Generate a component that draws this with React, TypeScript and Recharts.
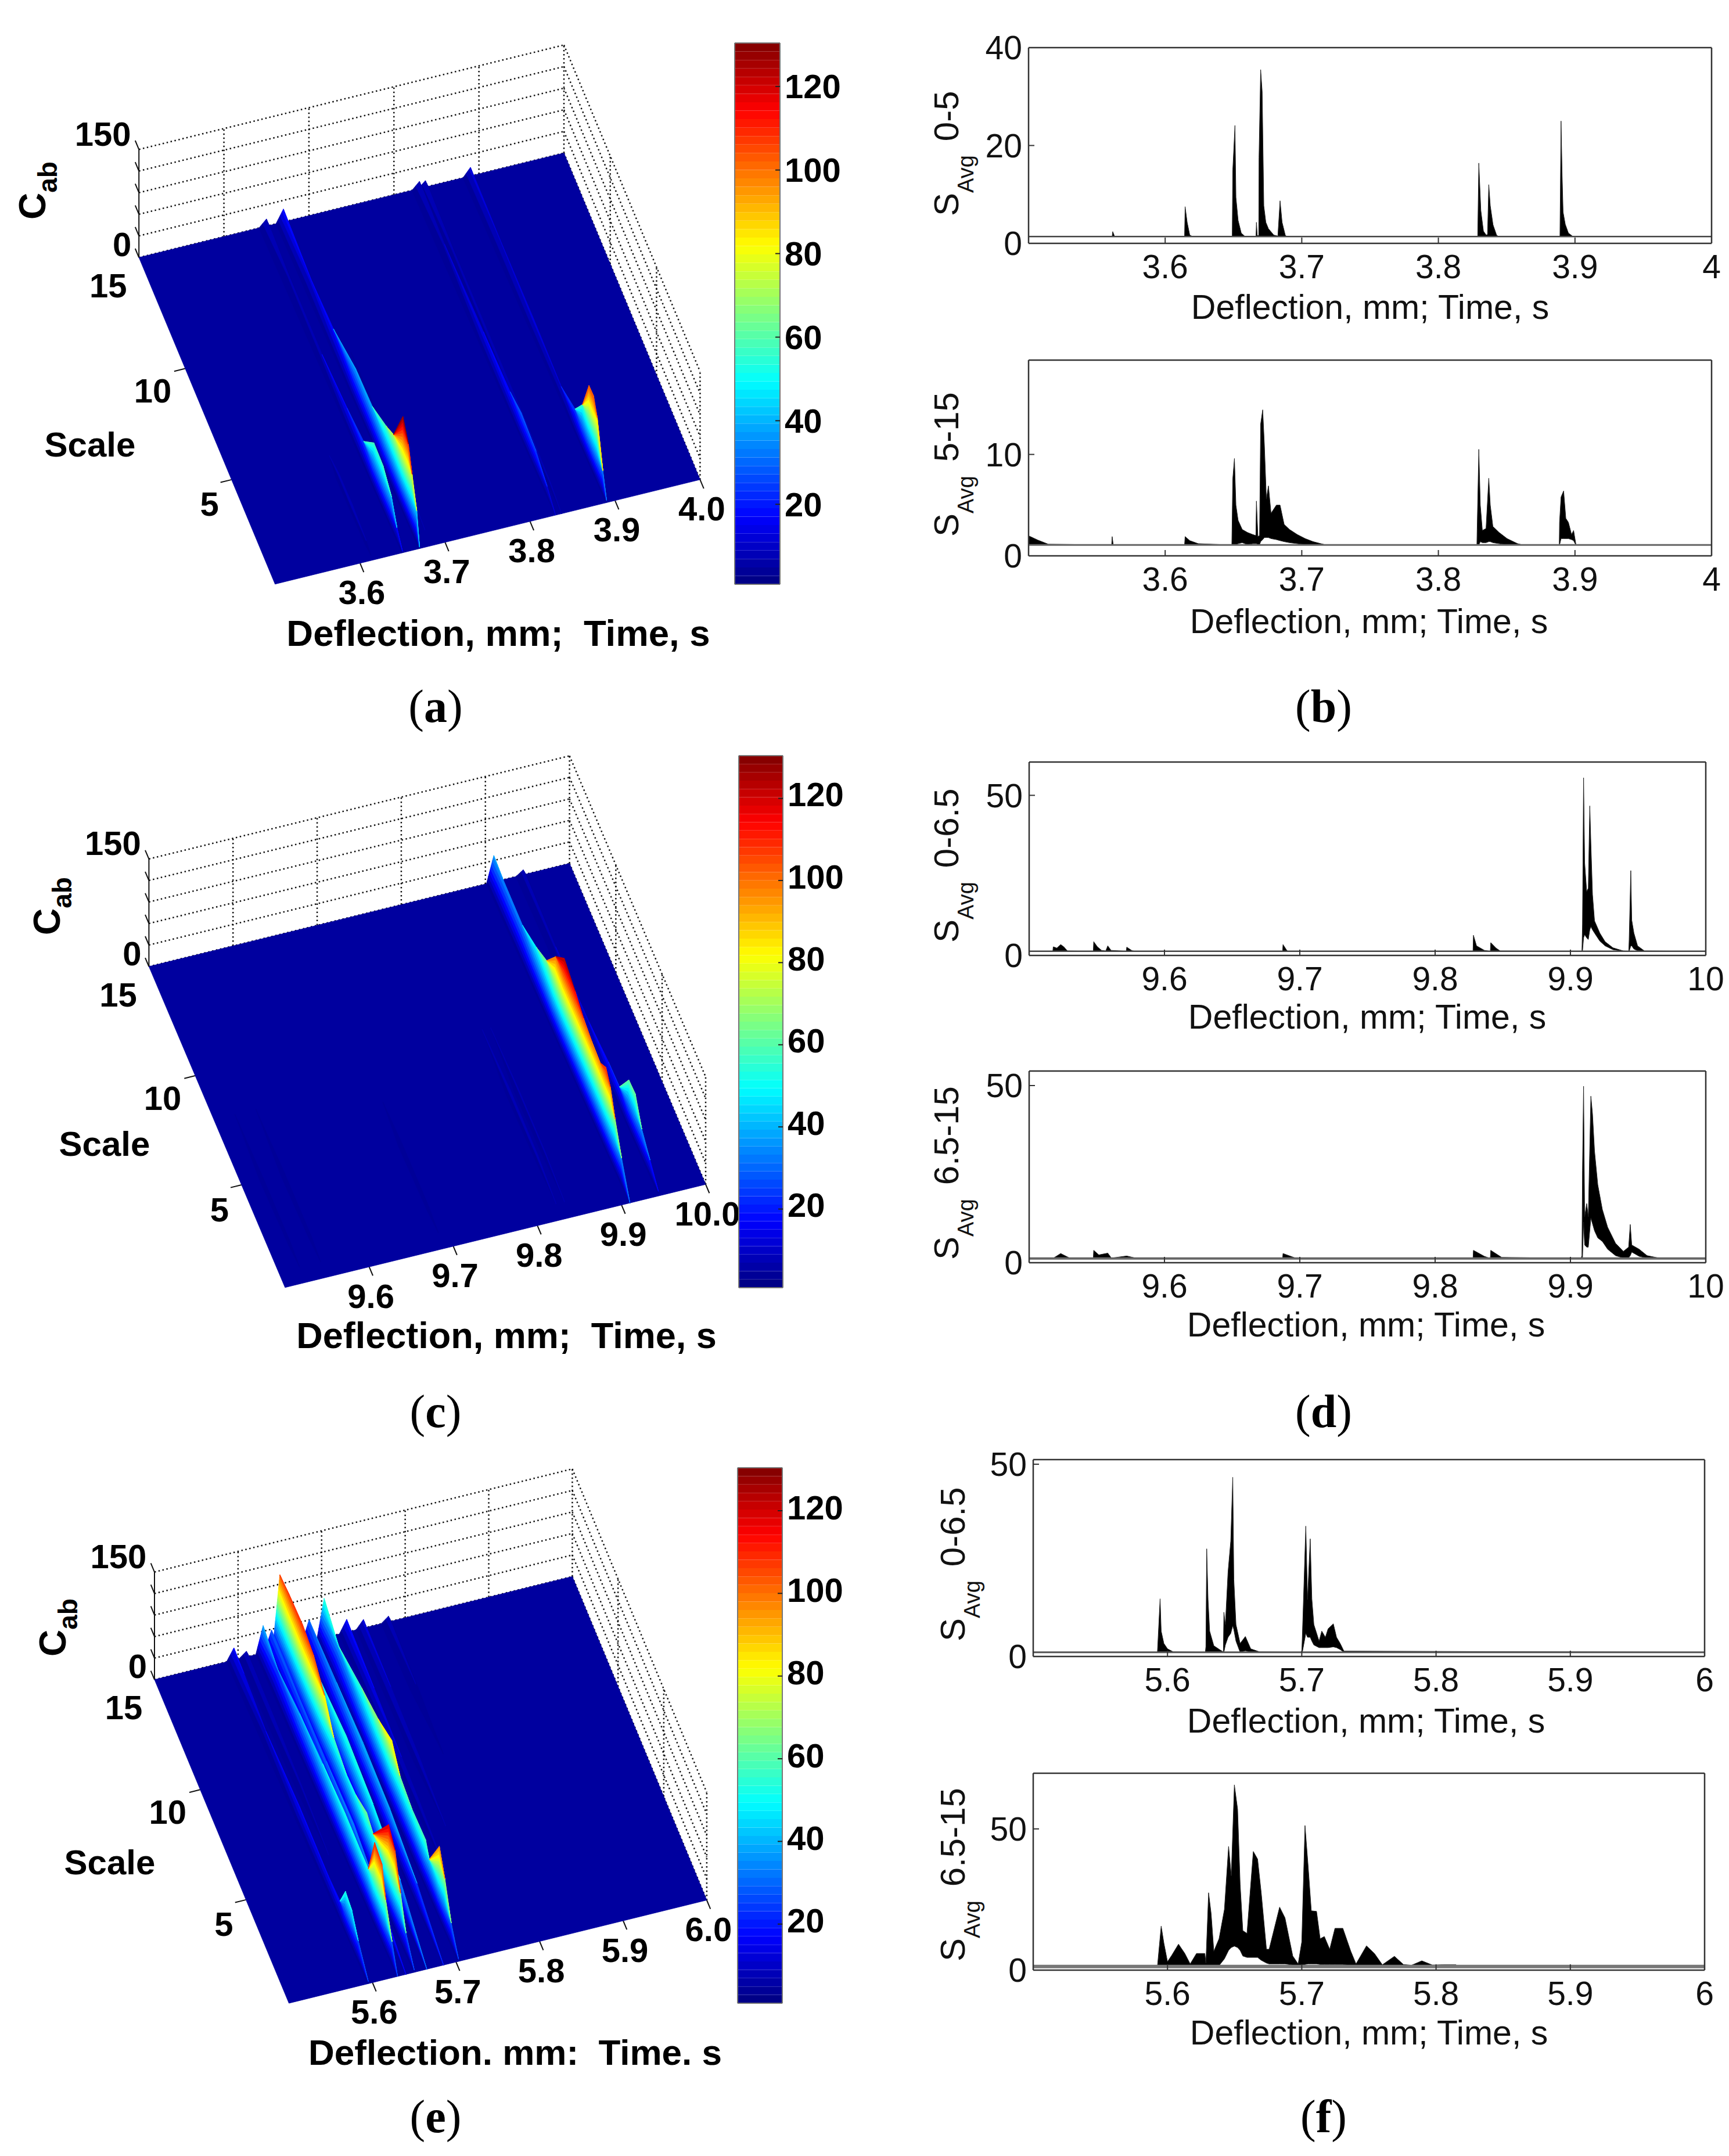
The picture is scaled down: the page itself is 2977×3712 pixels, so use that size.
import {
  Area,
  Bar,
  BarChart,
  ComposedChart,
  Label,
  Line,
  Scatter,
  XAxis,
  YAxis,
} from "recharts";

const FONT = "'Liberation Sans', Arial, sans-serif";
const SERIF = "'Liberation Serif', 'Times New Roman', serif";

type Ridge = { time: number; scales: number[]; heights: number[] };

const ridgesA: Ridge[] = [
  { time: 3.89, scales: [15, 11.8, 8.2, 5.2, 3.7, 2.9, 2.2, 1.7, 1.3, 0.7, 0.3], heights: [12, 10, 12, 10, 25, 56, 104, 105, 87, 32, 3] },
  { time: 3.837, scales: [15, 12, 8, 4, 1.5, 0.3], heights: [9, 6, 7, 9, 6, 0] },
  { time: 3.83, scales: [15, 12.3, 8.1, 5.2, 4, 2.4, 1.2, 0.3], heights: [10, 6, 14, 20, 28, 24, 12, 0] },
  { time: 3.684, scales: [9, 6, 3, 1], heights: [0, 5, 6, 0] },
  { time: 3.67, scales: [15, 12, 9.6, 7.2, 5.4, 3.9, 3.1, 2.1, 1.5, 1.1, 0.6, 0.3], heights: [18, 12, 18, 37, 40, 59, 72, 128, 108, 78, 43, 2] },
  { time: 3.65, scales: [15, 12.6, 9, 6.3, 4.5, 3.4, 2.4, 1.5, 0.9, 0.3], heights: [10, 6, 7, 16, 25, 57, 56, 41, 16, 2] },
  { time: 3.615, scales: [5, 4, 2.5, 1, 0.5], heights: [0, 7, 9, 5, 0] },
];

const ridgesC: Ridge[] = [
  { time: 9.945, scales: [15, 11.5, 7.9, 5.8, 4.6, 3.6, 2.9, 2.2, 1.3, 0.4], heights: [7, 6, 11, 19, 21, 61, 63, 35, 19, 3] },
  { time: 9.91, scales: [15, 14, 11.9, 10.4, 9.3, 8.3, 7.4, 6.2, 5.3, 4.4, 3.5, 2.9, 2.4, 1.9, 1.2, 0.3], heights: [37, 34, 34, 49, 64, 100, 125, 115, 105, 100, 98, 110, 97, 68, 35, 0] },
  { time: 9.84, scales: [9, 6, 3, 1], heights: [0, 6, 6, 0] },
  { time: 9.83, scales: [9, 6, 3, 1], heights: [0, 8, 8, 0] },
  { time: 9.69, scales: [7, 5, 2, 1], heights: [0, 5, 5, 0] },
  { time: 9.55, scales: [8, 5, 2, 1], heights: [0, 5, 5, 0] },
  { time: 9.525, scales: [8, 5, 2, 1], heights: [0, 4, 4, 0] },
];

const ridgesE: Ridge[] = [
  { time: 5.78, scales: [15, 12, 9], heights: [8, 5, 0] },
  { time: 5.75, scales: [15, 12, 9, 6], heights: [12, 10, 8, 0] },
  { time: 5.73, scales: [15, 12, 9, 7, 4], heights: [18, 14, 10, 8, 0] },
  { time: 5.703, scales: [15, 13.4, 10.9, 9.1, 7.6, 6.7, 5.4, 3.9, 3.5, 2.4, 1.8, 1.1, 0.3], heights: [55, 37, 56, 68, 84, 62, 56, 59, 44, 96, 69, 29, 3] },
  { time: 5.685, scales: [15, 12, 9.1, 6.2, 3.2, 0.3], heights: [30, 35, 40, 38, 25, 0] },
  { time: 5.665, scales: [15, 12, 9.1, 6.2, 3.2, 0.3], heights: [34, 45, 55, 50, 35, 0] },
  { time: 5.65, scales: [15, 14, 12.5, 11.3, 10.1, 9.1, 7.7, 6.7, 5.5, 4.8, 3.1, 2.4, 1.8, 1.2, 0.3], heights: [103, 107, 110, 104, 85, 57, 48, 51, 63, 55, 120, 105, 64, 27, 3] },
  { time: 5.64, scales: [15, 12, 9, 6, 3, 0.3], heights: [29, 28, 30, 35, 20, 0] },
  { time: 5.63, scales: [15, 13.4, 11, 8.5, 6.1, 4.3, 3.5, 2.8, 2, 1.6, 0.9, 0.3], heights: [38, 26, 38, 45, 51, 51, 52, 110, 104, 67, 30, 0] },
  { time: 5.61, scales: [15, 12, 9, 6], heights: [8, 8, 6, 0] },
  { time: 5.595, scales: [15, 13.9, 11.5, 7.8, 4.7, 3.4, 2.8, 2.1, 1.4, 0.3], heights: [17, 15, 8, 16, 16, 20, 52, 47, 26, 3] },
];

const zLevels = [0, 30, 60, 90, 120, 150];
const scaleTicks = [10, 5];
const colorTicks = [20, 40, 60, 80, 100, 120];
const COLOR_MIN = 0.85;
const COLOR_MAX = 130.4;
const SCALE_MIN = 0.3;

// --- line panels: [time, upper envelope, lower envelope if not the baseline] ---
type Row = number[];

const bTop: Row[] = [
  [3.5, 1.4], [3.5612, 1.4], [3.5616, 2.4], [3.563, 1.4], [3.6142, 1.4], [3.6146, 7.5], [3.6161, 4.3], [3.618, 1.7], [3.62, 1.4],
  [3.6491, 1.4], [3.6495, 15], [3.6511, 24.1], [3.6518, 9.4], [3.6534, 4.7], [3.6557, 2.1], [3.6583, 1.45], [3.6665, 1.4], [3.6668, 4.3], [3.6674, 1.6],
  [3.6685, 1.6], [3.6687, 17.5], [3.6699, 35.5], [3.671, 31], [3.6722, 7.7], [3.6737, 4.3], [3.6756, 3], [3.6795, 1.7], [3.6825, 1.5], [3.6841, 8.7], [3.6856, 4.3], [3.6879, 1.7], [3.689, 1.4],
  [3.8288, 1.4], [3.8296, 16.4], [3.8311, 6.7], [3.833, 2.5], [3.835, 1.7], [3.836, 1.8], [3.8369, 12], [3.838, 7.7], [3.84, 3.8], [3.8426, 1.7], [3.844, 1.4],
  [3.889, 1.4], [3.8898, 25], [3.8906, 13.8], [3.8913, 6.4], [3.8929, 3.9], [3.8952, 2.1], [3.8983, 1.45], [4, 1.4],
];

const bBottom: Row[] = [
  [3.5, 1.98], [3.5067, 1.56], [3.5144, 1.15], [3.5608, 1.07], [3.5612, 1.9], [3.562, 1.07], [3.6142, 1.07], [3.6146, 1.9], [3.618, 1.5], [3.6242, 1.2],
  [3.6488, 1.07], [3.6495, 7.6], [3.6507, 9.6], [3.6518, 5], [3.6534, 3.5, 1.2], [3.6564, 2.6, 1.3], [3.6603, 2.3, 1.1], [3.6641, 2.1, 1.2], [3.6664, 2, 1.2], [3.6668, 5.4, 1.2], [3.6679, 1.9, 1.1], [3.6691, 2, 1.1],
  [3.6699, 13, 1.4], [3.6714, 14.4, 1.6], [3.6726, 11, 1.8], [3.6741, 5.6, 1.8], [3.6756, 6.9, 1.8], [3.6775, 4.2, 1.7], [3.6814, 5, 1.6], [3.6841, 5, 1.5], [3.6871, 3.1, 1.4], [3.691, 2.6, 1.3], [3.6967, 2.1, 1.2], [3.7025, 1.7, 1.1], [3.7083, 1.4], [3.714, 1.2], [3.718, 1.07],
  [3.8282, 1.07], [3.8284, 2.6], [3.8296, 10.5], [3.8307, 5, 1.4], [3.8322, 2.5, 1.3], [3.8349, 2.7, 1.3], [3.8369, 7.65, 1.4], [3.838, 5, 1.4], [3.8399, 2.9, 1.3], [3.8445, 2.3, 1.2], [3.8503, 1.7], [3.858, 1.2], [3.862, 1.07],
  [3.8885, 1.07], [3.8887, 3.3], [3.8898, 5.8, 1.7], [3.8917, 6.4, 1.7], [3.8933, 3.7, 1.7], [3.8952, 3.3, 1.7], [3.8975, 2.1, 1.6], [3.899, 2.5, 1.5], [3.9006, 1.2], [3.901, 1.07], [4, 1.07],
];

const dTop: Row[] = [
  [9.5, 1.3], [9.5175, 1.3], [9.5178, 2.7], [9.5205, 2.3], [9.5233, 3.4], [9.5256, 2.7], [9.5283, 1.4], [9.5474, 1.3], [9.5477, 4.3], [9.5504, 2.7], [9.5535, 1.6], [9.5566, 1.4], [9.5581, 3], [9.5605, 1.6],
  [9.5718, 1.3], [9.5721, 2.6], [9.576, 1.5], [9.578, 1.3], [9.6873, 1.3], [9.6876, 3.4], [9.6899, 1.9], [9.691, 1.3],
  [9.828, 1.3], [9.8283, 6.3], [9.8306, 3], [9.8364, 1.6], [9.8408, 1.3], [9.8411, 4], [9.845, 2.3], [9.8481, 1.4],
  [9.9085, 1.3], [9.9089, 9.8], [9.9097, 55.5, 5.5], [9.9105, 29, 6.5], [9.912, 20, 5.5], [9.9132, 21, 5], [9.9143, 46.7, 8], [9.9151, 35, 9], [9.9163, 19, 8], [9.9178, 10.8, 7], [9.9217, 7, 4.5], [9.9256, 4.3, 3], [9.9314, 2.4, 1.8], [9.9391, 1.4],
  [9.9431, 1.3], [9.9434, 5], [9.9446, 26.5, 3], [9.9453, 11, 3], [9.9469, 7, 2], [9.9496, 3, 1.5], [9.9547, 1.4], [10, 1.3],
];

const dBottom: Row[] = [
  [9.5, 1.2], [9.5175, 1.2], [9.5233, 2.6], [9.53, 1.3], [9.5474, 1.2], [9.5477, 3.5], [9.5515, 2.2], [9.5581, 2.7], [9.5608, 1.3], [9.5721, 1.9], [9.5787, 1.3],
  [9.6873, 1.2], [9.6876, 2.6], [9.6969, 1.3], [9.828, 1.2], [9.8283, 3.5], [9.8364, 1.8], [9.8408, 1.2], [9.8411, 3.5], [9.8492, 1.5],
  [9.9078, 1.2], [9.9085, 2], [9.9089, 26], [9.9097, 49.8, 11.5], [9.9105, 13, 5], [9.912, 16.7, 4.4], [9.9132, 13, 4.4], [9.9151, 47, 12.6], [9.9163, 42, 11], [9.9178, 31.5, 9], [9.9202, 22, 7], [9.9236, 15, 6], [9.9275, 10, 3.8], [9.9333, 5.5, 2], [9.9391, 3.2, 1.3],
  [9.943, 4.4, 1.4], [9.9442, 10.8, 2], [9.9453, 5, 3], [9.9508, 3.8, 1.8], [9.9566, 2, 1.3], [9.9643, 1.4], [10, 1.2],
];

const fTop: Row[] = [
  [5.5, 1.1], [5.5925, 1.1], [5.5945, 15], [5.5953, 6.6], [5.5973, 3.4], [5.6, 2], [5.6043, 1.2], [5.6282, 1.1], [5.6286, 2.6], [5.6292, 28], [5.6302, 14.8], [5.6314, 6.6], [5.6345, 2.8], [5.6392, 1.7],
  [5.6416, 1.2], [5.642, 11.5], [5.6431, 8.3, 3], [5.6451, 22, 5], [5.6471, 30, 6], [5.6486, 46.6, 8], [5.6494, 20, 7], [5.651, 8.3, 4], [5.6541, 3.4], [5.658, 5.2, 1.5], [5.662, 2], [5.6686, 1.2],
  [5.7, 1.1], [5.7004, 5], [5.703, 33.9, 6], [5.7043, 14.8, 5], [5.7063, 30.6, 5], [5.7075, 15, 4], [5.709, 8.3, 3], [5.7129, 4, 2.3], [5.7149, 6.6, 2.3], [5.7176, 5, 2.3], [5.7196, 7.2, 2.3], [5.7235, 8.5, 2.5], [5.7259, 5, 2.3], [5.7286, 3.4, 1.8], [5.7314, 1.4], [6, 1.1],
];

const fBottom: Row[] = [
  [5.5, 1.3], [5.5925, 1.3], [5.5953, 15.6, 1.4], [5.5973, 9.6, 1.4], [5.6, 3, 1.4], [5.6031, 5.2, 1.4], [5.6082, 9.2, 1.5], [5.6129, 5.9, 1.4], [5.6169, 2.2, 1.4], [5.6216, 5.9, 1.4], [5.6278, 5.9, 1.4], [5.6286, 2.5],
  [5.6306, 27.4, 1.5], [5.6325, 20, 1.6], [5.6345, 6.7, 1.5], [5.6384, 11.1, 1.6], [5.6424, 21.5, 4], [5.6455, 43.8, 7], [5.6475, 33.4, 8], [5.6498, 65.6, 8.5], [5.6522, 57, 8], [5.6541, 30.4, 7], [5.6561, 14, 5], [5.6592, 13, 4.5],
  [5.6639, 42, 4.5], [5.6671, 39.3, 4.5], [5.6698, 27.4, 3.5], [5.6737, 7.4, 2.5], [5.6757, 7.4, 2.2], [5.6835, 22.3, 2.2], [5.6875, 18.5, 2.2], [5.6933, 5, 1.8], [5.6973, 2.2, 1.5],
  [5.7, 10, 1.8], [5.7024, 51.2, 2], [5.7047, 37, 2.2], [5.7071, 21, 2.2], [5.711, 20.8, 2.2], [5.7137, 11.1, 2], [5.7168, 11.9, 2], [5.7208, 7.4, 2], [5.7247, 14.8, 2], [5.7306, 14.8, 2], [5.7365, 6.7, 1.6], [5.7404, 2.2, 1.5],
  [5.7482, 8.6, 1.6], [5.7541, 5.9, 1.5], [5.76, 1.9, 1.4], [5.769, 4.9, 1.5], [5.7757, 2, 1.4], [5.7816, 1.7], [5.7894, 3.3, 1.4], [5.7973, 1.8], [5.8051, 1.9], [5.8149, 1.9], [5.816, 1.3], [6, 1.3],
];

const abTicks = [3.6, 3.7, 3.8, 3.9, 4];
const cdTicks = [9.6, 9.7, 9.8, 9.9, 10];
const efTicks = [5.6, 5.7, 5.8, 5.9, 6];

// --- colour map ---
const clamp = (v: number) => Math.max(0, Math.min(1, v));
const jet = (v: number) => {
  const f = (v - COLOR_MIN) / (COLOR_MAX - COLOR_MIN);
  const r = clamp(Math.min(4 * f - 1.5, -4 * f + 4.5));
  const g = clamp(Math.min(4 * f - 0.5, -4 * f + 3.5));
  const b = clamp(Math.min(4 * f + 0.5, -4 * f + 2.5));
  return `rgb(${Math.round(r * 255)},${Math.round(g * 255)},${Math.round(b * 255)})`;
};

const FLOOR = "#00009f";
const LEVEL_STEP = 5;
const surfaceLevels = Array.from({ length: 28 }, (_, i) => i * LEVEL_STEP);

// --- surface panel ---
interface Geometry {
  chartTop: number;
  chartHeight: number;
  tMin: number;
  ox: number;
  oy: number;
  bx: number;
  by: number;
  fx: number;
  fy: number;
  zPerUnit: number;
}

const project = (g: Geometry, t: number, s: number, z: number) => {
  const a = (t - g.tMin) / 0.5;
  const b = (15 - s) / (15 - SCALE_MIN);
  return {
    px: g.ox + a * (g.bx - g.ox) + b * (g.fx - g.ox),
    py: g.oy + a * (g.by - g.oy) + b * (g.fy - g.oy) - z * g.zPerUnit,
  };
};

const PolyShape = (props: any) => {
  const { cx, cy, payload } = props;
  const pts = payload.verts
    .map((v: { px: number; py: number }) => `${cx + v.px - payload.px},${cy + v.py - payload.py}`)
    .join(" ");
  return <polygon points={pts} fill={payload.color} stroke={payload.color} strokeWidth={0.8} />;
};

const TextShape = (props: any) => {
  const { cx, cy, payload } = props;
  return (
    <text
      x={cx}
      y={cy}
      textAnchor="middle"
      dominantBaseline="central"
      fontFamily={FONT}
      fontWeight="bold"
      fontSize={payload.size}
      fill="#000"
      style={{ whiteSpace: "pre" }}
    >
      {payload.text}
    </text>
  );
};

const CabShape = (props: any) => {
  const { cx, cy } = props;
  return (
    <text transform={`rotate(-90 ${cx} ${cy})`} x={cx} y={cy} fontFamily={FONT} fontWeight="bold" fontSize={64} fill="#000">
      C
      <tspan dy={20} fontSize={46}>
        ab
      </tspan>
    </text>
  );
};

// each ridge is a curtain with a steep flank either side of its crest line
const FLANK_LEFT = -0.008;
const FLANK_RIGHT = 0.003;

const buildCells = (g: Geometry, ridges: Ridge[]) => {
  const cells: any[] = [];
  const at = (t: number, s: number, level: number, h: number, flank: number) => {
    const z = Math.min(level, h);
    const frac = h > 0 ? 1 - z / h : 0;
    return project(g, t + flank * (s / 15 + 0.1) * frac, s, z);
  };
  ridges.forEach((ridge) => {
    [FLANK_RIGHT, FLANK_LEFT].forEach((flank) => {
      for (let i = 0; i < ridge.scales.length - 1; i++) {
        const s0 = ridge.scales[i];
        const s1 = ridge.scales[i + 1];
        const h0 = ridge.heights[i];
        const h1 = ridge.heights[i + 1];
        for (let k = 0; k < surfaceLevels.length - 1; k++) {
          const lo = surfaceLevels[k];
          const hi = surfaceLevels[k + 1];
          if (lo >= h0 && lo >= h1) break;
          const verts = [
            at(ridge.time, s0, lo, h0, flank),
            at(ridge.time, s1, lo, h1, flank),
            at(ridge.time, s1, hi, h1, flank),
            at(ridge.time, s0, hi, h0, flank),
          ];
          cells.push({ ...verts[0], verts, color: jet(Math.max((lo + hi) / 2, 4)) });
        }
      }
    });
  });
  return cells;
};

interface SurfaceProps {
  geometry: Geometry;
  ridges: Ridge[];
  timeLabels: string[];
  xTitle: string;
  xTitlePos: number[];
  xTitleSize: number;
  scalePos: number[];
  cabPos: number[];
}

const WIDTH_3D = 1340;

const SurfacePanel = ({ geometry: g, ridges, timeLabels, xTitle, xTitlePos, xTitleSize, scalePos, cabPos }: SurfaceProps) => {
  const tMax = g.tMin + 0.5;
  const tTicks = timeLabels.map(Number);
  const dotted: { px: number; py: number }[][] = [];
  const solid: { px: number; py: number }[][] = [];
  zLevels.forEach((z) => {
    dotted.push([project(g, g.tMin, 15, z), project(g, tMax, 15, z)]);
    dotted.push([project(g, tMax, 15, z), project(g, tMax, SCALE_MIN, z)]);
    solid.push([project(g, g.tMin, 15, z), project(g, g.tMin, 15.4, z)]);
  });
  tTicks.forEach((t) => {
    dotted.push([project(g, t, 15, 0), project(g, t, 15, 150)]);
    solid.push([project(g, t, SCALE_MIN, 0), project(g, t, SCALE_MIN - 0.4, 0)]);
  });
  [...scaleTicks, SCALE_MIN].forEach((s) => {
    dotted.push([project(g, tMax, s, 0), project(g, tMax, s, 150)]);
  });
  scaleTicks.forEach((s) => {
    solid.push([project(g, g.tMin, s, 0), project(g, g.tMin - 0.013, s, 0)]);
  });
  solid.push([project(g, g.tMin, 15, 0), project(g, g.tMin, 15, 150)]);

  const floor = [
    project(g, g.tMin, 15, 0),
    project(g, tMax, 15, 0),
    project(g, tMax, SCALE_MIN, 0),
    project(g, g.tMin, SCALE_MIN, 0),
  ];
  const origin = project(g, g.tMin, 15, 0);
  const top = project(g, g.tMin, 15, 150);
  const labelAt = (p: { px: number; py: number }, dx: number, dy: number, text: string, size = 58) => ({
    px: p.px + dx,
    py: p.py + dy,
    text,
    size,
  });
  const labels = [
    labelAt(top, -62, -27, "150"),
    labelAt(origin, -29, -23, "0"),
    labelAt(origin, -53, 48, "15"),
    labelAt(project(g, g.tMin, 10, 0), -56, 38, "10"),
    labelAt(project(g, g.tMin, 5, 0), -38, 42, "5"),
    ...timeLabels.map((label, i) => labelAt(project(g, tTicks[i], SCALE_MIN, 0), 3, 50, label)),
    { px: scalePos[0], py: scalePos[1], text: "Scale", size: 60 },
    { px: xTitlePos[0], py: xTitlePos[1], text: xTitle, size: xTitleSize },
  ];

  return (
    <div style={{ position: "absolute", left: 0, top: g.chartTop }}>
      <ComposedChart width={WIDTH_3D} height={g.chartHeight} margin={{ top: 0, right: 0, bottom: 0, left: 0 }}>
        <XAxis type="number" dataKey="px" domain={[0, WIDTH_3D]} hide allowDataOverflow />
        <YAxis type="number" dataKey="py" domain={[g.chartTop, g.chartTop + g.chartHeight]} reversed hide allowDataOverflow />
        {dotted.map((d, i) => (
          <Line key={`d${i}`} data={d} dataKey="py" stroke="#111" strokeWidth={2.5} strokeDasharray="2.5 4.5" dot={false} activeDot={false} isAnimationActive={false} />
        ))}
        {solid.map((d, i) => (
          <Line key={`s${i}`} data={d} dataKey="py" stroke="#111" strokeWidth={2} dot={false} activeDot={false} isAnimationActive={false} />
        ))}
        <Scatter data={[{ ...floor[0], verts: floor, color: FLOOR }]} shape={PolyShape} isAnimationActive={false} />
        <Scatter data={buildCells(g, ridges)} shape={PolyShape} isAnimationActive={false} />
        <Scatter data={labels} shape={TextShape} isAnimationActive={false} />
        <Scatter data={[{ px: cabPos[0], py: cabPos[1] }]} shape={CabShape} isAnimationActive={false} />
      </ComposedChart>
    </div>
  );
};

// --- colour bar ---
const BAND_COUNT = 64;
const bandWidth = (COLOR_MAX - COLOR_MIN) / BAND_COUNT;
const bandKeys = Array.from({ length: BAND_COUNT }, (_, i) => `b${i}`);
const bandRow: Record<string, number | string> = { cat: "jet" };
bandKeys.forEach((key, i) => {
  bandRow[key] = i === 0 ? COLOR_MIN + bandWidth : bandWidth;
});

interface ColorBarProps {
  left: number;
  right: number;
  top: number;
  bottom: number;
  labelShift: number;
}

const ColorBar = ({ left, right, top, bottom, labelShift }: ColorBarProps) => (
  <div style={{ position: "absolute", left: left - 1, top: top - 30 }}>
    <BarChart
      width={right - left + 125}
      height={bottom - top + 60}
      data={[bandRow]}
      barCategoryGap={0}
      margin={{ top: 29, right: 119, bottom: 29, left: 0 }}
    >
      <XAxis dataKey="cat" height={1} tick={false} tickLine={false} axisLine={{ stroke: "#777", strokeWidth: 2 }} />
      <XAxis xAxisId="top" orientation="top" dataKey="cat" height={1} tick={false} tickLine={false} axisLine={{ stroke: "#777", strokeWidth: 2 }} />
      <YAxis width={1} type="number" domain={[COLOR_MIN, COLOR_MAX]} allowDataOverflow ticks={colorTicks} tick={false} tickSize={-8} axisLine={{ stroke: "#777", strokeWidth: 2 }} tickLine={{ stroke: "#222", strokeWidth: 2 }} />
      <YAxis
        yAxisId="right"
        orientation="right"
        width={1}
        type="number"
        domain={[COLOR_MIN, COLOR_MAX]}
        allowDataOverflow
        ticks={colorTicks}
        interval={0}
        tickSize={-8}
        tickMargin={16}
        axisLine={{ stroke: "#777", strokeWidth: 2 }}
        tickLine={{ stroke: "#222", strokeWidth: 2 }}
        tick={{ fontSize: 58, fontWeight: "bold", fontFamily: FONT, fill: "#000", dy: labelShift }}
      />
      {bandKeys.map((key, i) => (
        <Bar key={key} dataKey={key} stackId="jet" fill={jet(COLOR_MIN + (i + 0.5) * bandWidth)} isAnimationActive={false} />
      ))}
    </BarChart>
  </div>
);

// --- line panels ---
interface TraceProps {
  rows: Row[];
  baseline: number;
  baselineWidth: number;
  baselineColor: string;
  xTicks: number[];
  yMax: number;
  yTicks: number[];
  left: number;
  right: number;
  top: number;
  bottom: number;
  range: string;
  yTitleX: number;
  yTitleBottom: number;
  xTitleX: number;
  xTitleY: number;
}

const CHART_LEFT = 1500;

const TracePanel = (p: TraceProps) => {
  const chartTop = p.top - 40;
  const xMin = p.xTicks[0] - 0.1;
  const xMax = p.xTicks[p.xTicks.length - 1];
  const data = p.rows.map(([t, high, low]) => ({ t, range: [low ?? p.baseline, high] }));
  const baseRows = [
    { t: xMin, base: p.baseline },
    { t: xMax, base: p.baseline },
  ];
  const axisLine = { stroke: "#333", strokeWidth: 2.5 };
  const tickLine = { stroke: "#333", strokeWidth: 2 };
  const tx = p.yTitleX - CHART_LEFT;
  const ty = p.yTitleBottom - chartTop;
  return (
    <div style={{ position: "absolute", left: CHART_LEFT, top: chartTop }}>
      <ComposedChart
        width={2977 - CHART_LEFT}
        height={p.bottom - p.top + 40 + 170}
        margin={{ top: 39, right: 2977 - p.right - 1, bottom: 0, left: 0 }}
      >
        <XAxis
          type="number"
          dataKey="t"
          domain={[xMin, xMax]}
          allowDataOverflow
          ticks={p.xTicks}
          interval={0}
          height={170}
          tickSize={-10}
          tickMargin={30}
          axisLine={axisLine}
          tickLine={tickLine}
          tick={{ fontSize: 57, fontFamily: FONT, fill: "#111" }}
        >
          <Label
            content={() => (
              <text
                x={p.xTitleX - CHART_LEFT}
                y={p.xTitleY - chartTop}
                textAnchor="middle"
                dominantBaseline="central"
                fontFamily={FONT}
                fontSize={59}
                fill="#111"
              >
                Deflection, mm; Time, s
              </text>
            )}
          />
        </XAxis>
        <XAxis xAxisId="top" orientation="top" type="number" domain={[xMin, xMax]} allowDataOverflow ticks={p.xTicks} interval={0} height={1} tick={false} tickSize={-10} axisLine={axisLine} tickLine={tickLine} />
        <YAxis
          type="number"
          domain={[0, p.yMax]}
          allowDataOverflow
          ticks={p.yTicks}
          interval={0}
          width={p.left - CHART_LEFT}
          tickSize={-10}
          tickMargin={21}
          axisLine={axisLine}
          tickLine={tickLine}
          tick={{ fontSize: 57, fontFamily: FONT, fill: "#111" }}
        >
          <Label
            content={() => (
              <text transform={`rotate(-90 ${tx} ${ty})`} x={tx} y={ty} fontFamily={FONT} fontSize={60} fill="#111">
                S
                <tspan dy={26} fontSize={38}>
                  Avg
                </tspan>
                <tspan dy={-26} dx={24}>
                  {p.range}
                </tspan>
              </text>
            )}
          />
        </YAxis>
        <YAxis yAxisId="right" orientation="right" type="number" domain={[0, p.yMax]} allowDataOverflow ticks={p.yTicks} interval={0} width={1} tick={false} tickSize={-10} axisLine={axisLine} tickLine={tickLine} />
        <Area data={data} dataKey="range" type="linear" stroke="#222" strokeWidth={1} fill="#000" fillOpacity={1} dot={false} activeDot={false} isAnimationActive={false} />
        <Line data={baseRows} dataKey="base" stroke={p.baselineColor} strokeWidth={p.baselineWidth} dot={false} activeDot={false} isAnimationActive={false} />
      </ComposedChart>
    </div>
  );
};

const Caption = ({ x, y, letter }: { x: number; y: number; letter: string }) => (
  <div
    style={{
      position: "absolute",
      left: x - 100,
      top: y - 50,
      width: 200,
      height: 100,
      lineHeight: "100px",
      textAlign: "center",
      fontFamily: SERIF,
      fontSize: 80,
      color: "#000",
    }}
  >
    (<b>{letter}</b>)
  </div>
);

const geomA: Geometry = { chartTop: 0, chartHeight: 1170, tMin: 3.5, ox: 239.2, oy: 443.3, bx: 971, by: 263.4, fx: 473.6, fy: 1005.7, zPerUnit: 1.24 };
const geomC: Geometry = { chartTop: 1240, chartHeight: 1130, tMin: 9.5, ox: 256.4, oy: 1664.1, bx: 980.6, by: 1486.6, fx: 490.8, fy: 2216.7, zPerUnit: 1.235 };
const geomE: Geometry = { chartTop: 2480, chartHeight: 1110, tMin: 5.5, ox: 266, oy: 2891.8, bx: 985.4, by: 2714.3, fx: 497.5, fy: 3449, zPerUnit: 1.235 };

const App = () => (
  <div style={{ position: "absolute", left: 0, top: 0, width: 2977, height: 3712, background: "#fff", overflow: "hidden" }}>
    <SurfacePanel geometry={geomA} ridges={ridgesA} timeLabels={["3.6", "3.7", "3.8", "3.9", "4.0"]} xTitle="Deflection, mm;  Time, s" xTitlePos={[858, 1090]} xTitleSize={63.5} scalePos={[155, 765]} cabPos={[78, 378]} />
    <SurfacePanel geometry={geomC} ridges={ridgesC} timeLabels={["9.6", "9.7", "9.8", "9.9", "10.0"]} xTitle="Deflection, mm;  Time, s" xTitlePos={[872, 2299]} xTitleSize={63} scalePos={[180, 1969]} cabPos={[103, 1610]} />
    <SurfacePanel geometry={geomE} ridges={ridgesE} timeLabels={["5.6", "5.7", "5.8", "5.9", "6.0"]} xTitle="Deflection. mm:  Time. s" xTitlePos={[887, 3533]} xTitleSize={62} scalePos={[189, 3206]} cabPos={[113, 2852]} />

    <ColorBar left={1265} right={1339} top={74} bottom={1006} labelShift={0} />
    <ColorBar left={1272} right={1344} top={1301} bottom={2217} labelShift={-7} />
    <ColorBar left={1270} right={1343} top={2527} bottom={3449} labelShift={-6} />

    <TracePanel rows={bTop} baseline={1.4} baselineWidth={2.5} baselineColor="#444" xTicks={abTicks} yMax={40} yTicks={[0, 20, 40]} left={1771} right={2947} top={82} bottom={419} range="0-5" yTitleX={1650} yTitleBottom={372} xTitleX={2359} xTitleY={529} />
    <TracePanel rows={bBottom} baseline={1.07} baselineWidth={3} baselineColor="#666" xTicks={abTicks} yMax={19.3} yTicks={[0, 10]} left={1771} right={2947} top={620} bottom={957} range="5-15" yTitleX={1650} yTitleBottom={924} xTitleX={2357} xTitleY={1070} />
    <TracePanel rows={dTop} baseline={1.3} baselineWidth={2.5} baselineColor="#444" xTicks={cdTicks} yMax={60.4} yTicks={[0, 50]} left={1772} right={2937} top={1312} bottom={1645} range="0-6.5" yTitleX={1650} yTitleBottom={1623} xTitleX={2354} xTitleY={1751} />
    <TracePanel rows={dBottom} baseline={1.2} baselineWidth={4} baselineColor="#666" xTicks={cdTicks} yMax={54.1} yTicks={[0, 50]} left={1772} right={2937} top={1844} bottom={2174} range="6.5-15" yTitleX={1650} yTitleBottom={2169} xTitleX={2352} xTitleY={2281} />
    <TracePanel rows={fTop} baseline={1.1} baselineWidth={3} baselineColor="#555" xTicks={efTicks} yMax={51.2} yTicks={[0, 50]} left={1779} right={2935} top={2513} bottom={2852} range="0-6.5" yTitleX={1661} yTitleBottom={2826} xTitleX={2352} xTitleY={2963} />
    <TracePanel rows={fBottom} baseline={1.3} baselineWidth={6} baselineColor="#777" xTicks={efTicks} yMax={69.7} yTicks={[0, 50]} left={1779} right={2935} top={3053} bottom={3392} range="6.5-15" yTitleX={1661} yTitleBottom={3377} xTitleX={2357} xTitleY={3500} />

    <Caption x={750} y={1216} letter="a" />
    <Caption x={2279} y={1216} letter="b" />
    <Caption x={750} y={2430} letter="c" />
    <Caption x={2279} y={2430} letter="d" />
    <Caption x={750} y={3644} letter="e" />
    <Caption x={2279} y={3644} letter="f" />
  </div>
);

export default App;
